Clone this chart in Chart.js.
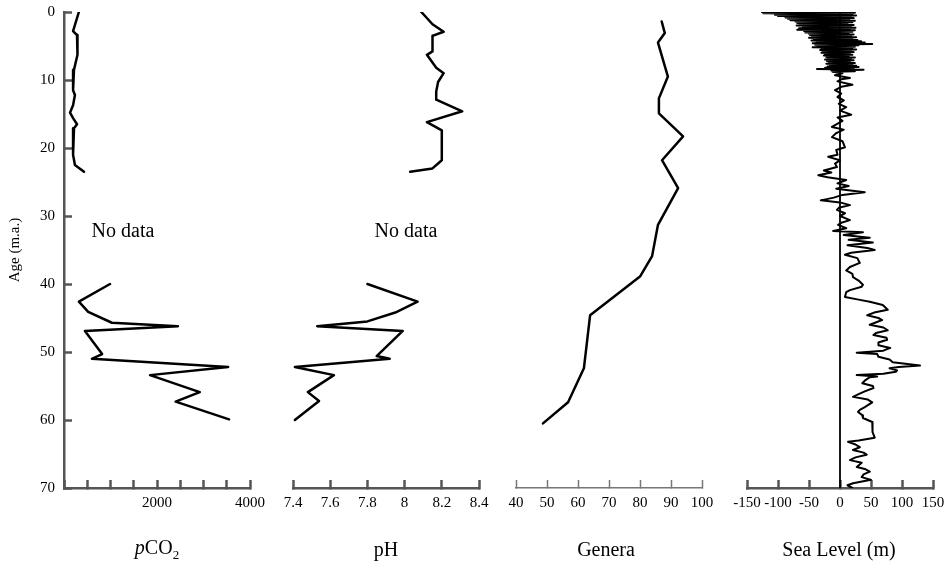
<!DOCTYPE html>
<html>
<head>
<meta charset="utf-8">
<script src="https://cdn.jsdelivr.net/npm/chart.js@4.4.1/dist/chart.umd.min.js"></script>
<style>
  body { margin: 0; background: #fff; }
  #wrap { position: relative; width: 948px; height: 566px; overflow: hidden; font-family: 'Liberation Serif', 'Times New Roman', serif; color: #000; }
  canvas { position: absolute; left: -20px; top: -20px; }
  .lbl { position: absolute; transform: translate(-50%, -50%); font-size: 20px; white-space: nowrap; }
  .lbl sub { font-size: 13px; }
</style>
</head>
<body>
<div id="wrap">
  <canvas id="c1" width="988" height="606"></canvas>
  <canvas id="c2" width="988" height="606"></canvas>
  <canvas id="c3" width="988" height="606"></canvas>
  <canvas id="c4" width="988" height="606"></canvas>
  <div class="lbl" style="left:123px;top:230px">No data</div>
  <div class="lbl" style="left:406px;top:230px">No data</div>
  <div class="lbl" style="left:157px;top:549px"><i>p</i>CO<sub>2</sub></div>
  <div class="lbl" style="left:386px;top:549px">pH</div>
  <div class="lbl" style="left:606px;top:549px">Genera</div>
  <div class="lbl" style="left:839px;top:549px">Sea Level (m)</div>
</div>
<script>
// age axis (m.a.), shared by all panels
const ageTicks = [0, 10, 20, 30, 40, 50, 60, 70];

// pCO2 (ppm)
const co2TopAge = [0, 2.8, 3.4, 5.9, 6.3, 8.5, 11.5, 12.2, 13.7, 14.8, 15.6, 16.5, 17.1, 21.0, 22.5, 23.5];
const co2TopVal = [320, 195, 280, 280, 300, 215, 195, 235, 195, 130, 195, 280, 215, 195, 235, 430];
const co2BotAge = [40.0, 42.6, 44.1, 45.7, 46.2, 46.9, 50.3, 51.0, 52.2, 53.4, 55.9, 57.3, 59.9];
const co2BotVal = [990, 320, 520, 1030, 2450, 450, 820, 600, 3530, 1850, 2920, 2400, 3550];

// pH
const phTopAge = [0, 1.8, 2.9, 3.5, 5.8, 6.3, 8.2, 9.0, 10.3, 11.7, 12.9, 14.6, 16.2, 17.4, 21.8, 23.0, 23.5];
const phTopVal = [8.09, 8.15, 8.21, 8.15, 8.15, 8.12, 8.17, 8.21, 8.18, 8.17, 8.17, 8.31, 8.12, 8.20, 8.20, 8.15, 8.03];
const phBotAge = [40.0, 42.6, 44.2, 45.5, 46.2, 46.9, 50.6, 51.0, 52.2, 53.4, 55.9, 57.2, 60.0];
const phBotVal = [7.80, 8.07, 7.95, 7.80, 7.53, 7.99, 7.85, 7.92, 7.41, 7.62, 7.48, 7.54, 7.41];

// genera count
const generaAge = [1.4, 3.1, 4.5, 9.5, 12.7, 14.9, 18.3, 21.8, 25.9, 31.3, 35.9, 38.9, 44.6, 52.4, 57.4, 60.5];
const generaVal = [87, 88, 85.8, 89, 86.1, 86.1, 93.9, 87.1, 92.3, 85.8, 83.9, 80, 63.9, 61.9, 56.8, 48.7];

// sea level (m)
const seaAge = [
  0.0, 0.1, 0.2, 0.3, 0.4, 0.5, 0.6, 0.7, 0.8, 0.9, 1.0, 1.1, 1.2, 1.3, 1.4, 1.5, 1.6, 1.7, 1.8, 1.9,
  2.0, 2.1, 2.2, 2.3, 2.4, 2.5, 2.6, 2.7, 2.8, 2.9, 3.0, 3.1, 3.2, 3.3, 3.4, 3.5, 3.6, 3.7, 3.8, 3.9,
  4.0, 4.1, 4.2, 4.3, 4.4, 4.5, 4.6, 4.7, 4.8, 4.9, 5.0, 5.1, 5.2, 5.3, 5.4, 5.5, 5.6, 5.7, 5.8, 5.9,
  6.0, 6.1, 6.2, 6.3, 6.4, 6.5, 6.6, 6.7, 6.8, 6.9, 7.0, 7.1, 7.2, 7.3, 7.4, 7.5, 7.6, 7.7, 7.8, 7.9,
  8.0, 8.1, 8.2, 8.3, 8.4, 8.5, 8.6, 8.7, 8.8, 9.0, 9.3, 9.7, 9.9, 10.2, 10.7, 11.0, 11.5, 12.0, 12.5, 13.0,
  13.5, 14.0, 14.5, 15.1, 15.5, 16.0, 16.9, 17.3, 17.8, 18.4, 19.0, 19.9, 20.3, 21.0, 21.3, 21.8, 22.3, 22.8, 23.3, 23.6,
  24.0, 24.3, 24.7, 25.2, 25.6, 26.0, 26.5, 26.9, 27.3, 27.7, 28.0, 28.4, 28.8, 29.1, 29.6, 30.0, 30.6, 31.0, 31.3, 31.8,
  32.2, 32.4, 32.8, 33.2, 33.5, 33.9, 34.3, 34.7, 35.0, 35.4, 35.7, 36.2, 36.9, 37.5, 38.0, 38.5, 39.0, 39.5, 40.1, 40.4,
  40.9, 41.2, 41.9, 42.3, 42.6, 43.1, 43.8, 44.2, 44.6, 45.0, 45.3, 46.0, 46.4, 46.8, 47.2, 47.5, 47.9, 48.2, 48.6, 49.0,
  49.4, 49.8, 50.1, 50.3, 50.7, 51.1, 51.5, 52.0, 52.2, 52.4, 52.7, 52.9, 53.2, 53.4, 53.6, 53.7, 54.2, 54.6, 55.0, 55.3,
  55.8, 56.2, 56.6, 57.0, 57.4, 58.1, 58.5, 58.8, 59.3, 59.7, 60.3, 61.0, 61.8, 62.6, 63.0, 63.2, 63.6, 64.0, 64.4, 64.8,
  65.1, 65.5, 65.9, 66.3, 66.9, 67.2, 67.6, 68.0, 68.4, 68.8, 69.3, 69.6, 70.0
];
const seaLevel = [
  -126, 24, -124, 20, -105, 26, -100, 18, -88, 22, -84, 15, -80, 24, -72, 20, -69, 12, -65, 22,
  -70, 18, -60, 25, -66, 16, -69, 24, -58, 20, -56, 14, -50, 22, -48, 18, -45, 26, -50, 20,
  -42, 28, -46, 34, -38, 40, -44, 52, -40, 30, -36, 24, -44, 20, -30, 26, -32, 18, -28, 22,
  -30, 16, -24, 20, -26, 14, -22, 24, -20, 18, -24, 22, -21, 16, -18, 24, -22, 20, -16, 26,
  -20, 30, -24, 22, -37, 38, -14, 24, -12, 4, -8, 16, 2, -4, 20, 2, -8, 2, -4, 6,
  -2, 10, 0, 18, -4, 4, -13, 6, -6, -13, 4, 8, -6, -4, -19, 0, -8, -5, -26, -14,
  -35, -20, 10, -4, 14, -6, 40, 4, -10, -31, 0, 16, -2, -5, 8, 0, 16, 2, -3, 10,
  -11, 37, 6, 48, 14, 53, 12, 44, 56, 18, 8, 28, 32, 16, 10, 20, 21, 30, 37, 35,
  16, 10, 8, 30, 48, 69, 77, 55, 44, 62, 68, 48, 70, 77, 58, 54, 75, 76, 62, 62,
  81, 70, 27, 60, 62, 80, 85, 129, 95, 80, 92, 90, 70, 27, 60, 48, 40, 36, 53, 54,
  40, 30, 21, 45, 52, 40, 32, 29, 36, 37, 52, 53, 52, 56, 30, 13, 25, 32, 21, 38,
  43, 25, 16, 35, 27, 40, 48, 38, 35, 50, 21, 12, 20
];
const zeroLineAge = [0, 70];
const zeroLineVal = [0, 0];

// tick values for the four bottom axes
const co2Ticks = [0, 500, 1000, 1500, 2000, 2500, 3000, 3500, 4000];
const co2Labelled = [2000, 4000];
const phTicks = [7.4, 7.6, 7.8, 8.0, 8.2, 8.4];
const generaTicks = [40, 50, 60, 70, 80, 90, 100];
const seaTicks = [-150, -100, -50, 0, 50, 100, 150];

const FONT = 'Liberation Serif';
// canvases sit 20px up/left of the page so the tick label padding has room
const OFF = 20, CW = 988, CH = 606;

function pts(ages, vals) {
  return ages.map((a, i) => ({ x: vals[i], y: a }));
}

function line(ages, vals, width) {
  return {
    data: pts(ages, vals),
    showLine: true,
    borderColor: '#000',
    borderWidth: width,
    pointRadius: 0,
    tension: 0,
    borderJoinStyle: 'round',
    borderCapStyle: 'round'
  };
}

// left/right = page x of plot area edges
function panel(id, datasets, xTicks, left, right, axisOpts) {
  const showAge = id === 'c1';
  const ageW = showAge ? 58 : 0;
  return new Chart(document.getElementById(id), {
    type: 'scatter',
    data: { datasets: datasets },
    options: {
      responsive: false,
      animation: false,
      events: [],
      layout: { padding: {
        left: left + OFF - ageW,
        right: CW - OFF - right,
        top: 12 + OFF,
        bottom: CH - OFF - 488 - 40
      } },
      plugins: { legend: { display: false }, tooltip: { enabled: false } },
      scales: {
        x: {
          type: 'linear',
          min: xTicks[0],
          max: xTicks[xTicks.length - 1],
          afterFit: s => { s.height = 40; },
          afterBuildTicks: s => { s.ticks = xTicks.map(v => ({ value: v })); },
          border: { display: true, color: axisOpts.color, width: axisOpts.width },
          grid: { display: true, drawOnChartArea: false, drawTicks: true, tickLength: -8,
                  tickColor: axisOpts.color, tickWidth: axisOpts.width },
          ticks: {
            autoSkip: false, maxRotation: 0, padding: 14,
            color: '#000', font: { family: FONT, size: 15 },
            callback: axisOpts.label
          }
        },
        y: {
          type: 'linear',
          display: showAge,
          reverse: true,
          min: 0,
          max: 70,
          afterFit: s => { if (showAge) s.width = ageW; },
          afterBuildTicks: s => { s.ticks = ageTicks.map(v => ({ value: v })); },
          border: { display: true, color: '#555', width: 2.5 },
          grid: { display: true, drawOnChartArea: false, drawTicks: true, tickLength: -8,
                  tickColor: '#555', tickWidth: 2.5 },
          ticks: { padding: 17, color: '#000', font: { family: FONT, size: 15 } },
          title: { display: showAge, text: 'Age (m.a.)', color: '#000', padding: 0,
                   font: { family: FONT, size: 15 } }
        }
      }
    }
  });
}

const thick = { color: '#555', width: 2.5 };

panel('c1', [line(co2TopAge, co2TopVal, 2.5), line(co2BotAge, co2BotVal, 2.5)], co2Ticks, 64, 250,
  Object.assign({ label: v => co2Labelled.includes(v) ? String(v) : '' }, thick));

panel('c2', [line(phTopAge, phTopVal, 2.5), line(phBotAge, phBotVal, 2.5)], phTicks, 293, 479,
  Object.assign({ label: v => String(Math.round(v * 10) / 10) }, thick));

panel('c3', [line(generaAge, generaVal, 2.5)], generaTicks, 516, 702,
  { color: '#777', width: 1.5, label: v => String(v) });

panel('c4', [line(zeroLineAge, zeroLineVal, 1.8), line(seaAge, seaLevel, 2)], seaTicks, 747, 933,
  Object.assign({ label: v => String(v) }, thick));
</script>
</body>
</html>
